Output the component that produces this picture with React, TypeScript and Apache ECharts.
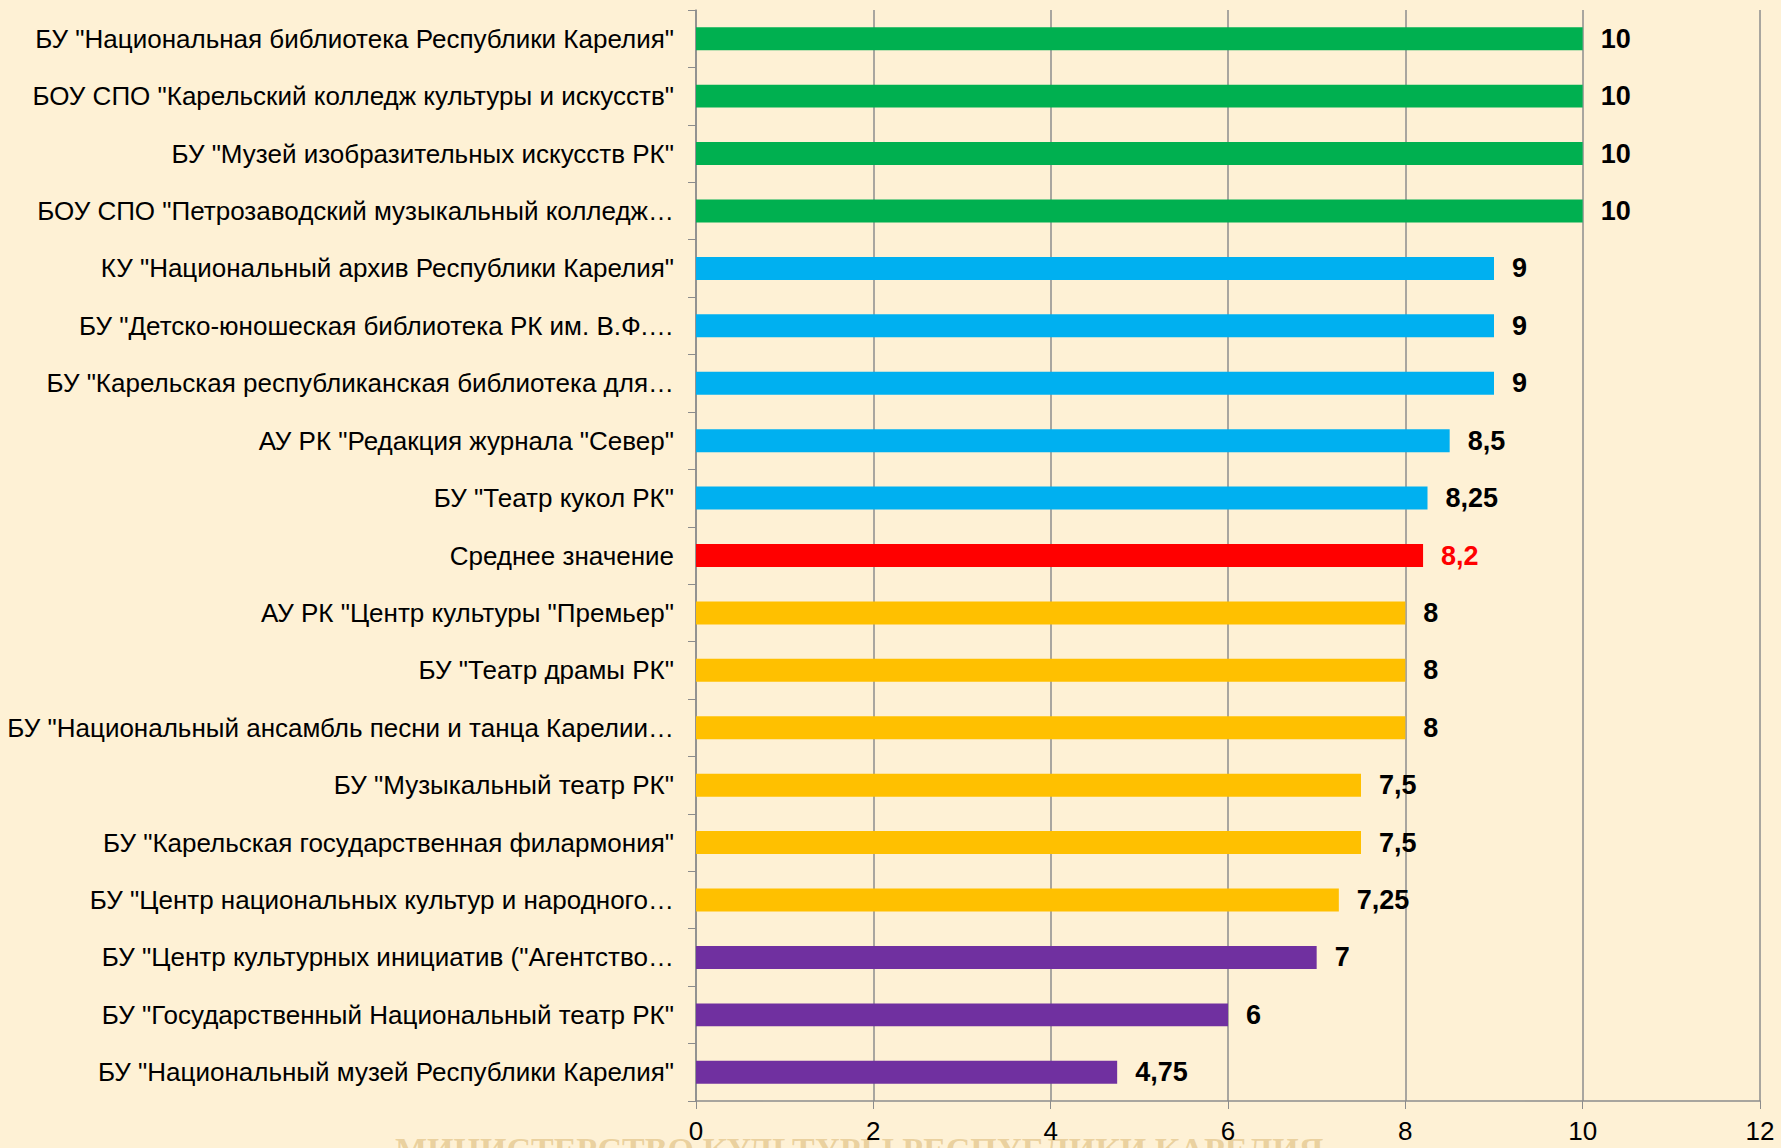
import React, { useEffect, useRef } from "react";
import * as echarts from "echarts";

const categories = [
  'БУ "Национальная библиотека Республики Карелия"',
  'БОУ СПО "Карельский колледж культуры и искусств"',
  'БУ "Музей изобразительных искусств РК"',
  'БОУ СПО "Петрозаводский музыкальный колледж…',
  'КУ "Национальный архив Республики Карелия"',
  'БУ "Детско-юношеская библиотека РК им. В.Ф.…',
  'БУ "Карельская республиканская библиотека для…',
  'АУ РК "Редакция журнала "Север"',
  'БУ "Театр кукол РК"',
  'Среднее значение',
  'АУ РК "Центр культуры "Премьер"',
  'БУ "Театр драмы РК"',
  'БУ "Национальный ансамбль песни и танца Карелии…',
  'БУ "Музыкальный театр РК"',
  'БУ "Карельская государственная филармония"',
  'БУ "Центр национальных культур и народного…',
  'БУ "Центр культурных инициатив ("Агентство…',
  'БУ "Государственный Национальный театр РК"',
  'БУ "Национальный музей Республики Карелия"',
];

const values = [10, 10, 10, 10, 9, 9, 9, 8.5, 8.25, 8.2, 8, 8, 8, 7.5, 7.5, 7.25, 7, 6, 4.75];

const groupColors = ["#00B050", "#00B0F0", "#FF0000", "#FFC000", "#7030A0"];
const groupOf = [0, 0, 0, 0, 1, 1, 1, 1, 1, 2, 3, 3, 3, 3, 3, 3, 4, 4, 4];

const xTicks = [0, 2, 4, 6, 8, 10, 12];

export default function App() {
  const ref = useRef<HTMLDivElement>(null);
  useEffect(() => {
    const chart = echarts.init(ref.current!, null, { renderer: "svg" });
    const labelFont = '"Liberation Sans", Arial, sans-serif';
    chart.setOption({
      animation: false,
      backgroundColor: "#FEF1D5",
      graphic: [
        {
          type: "text",
          left: 395,
          top: 1132,
          z: -10,
          silent: true,
          style: {
            text: "МИНИСТЕРСТВО КУЛЬТУРЫ РЕСПУБЛИКИ КАРЕЛИЯ",
            fill: "rgba(210,170,90,0.45)",
            font: 'bold 34px "Liberation Serif", serif',
          },
        },
      ],
      grid: {
        left: 696,
        right: 21,
        top: 10,
        bottom: 47,
        containLabel: false,
        outerBoundsMode: "none",
      },
      xAxis: {
        type: "value",
        min: 0,
        max: 12,
        interval: 2,
        axisLine: { show: true, lineStyle: { color: "#8C8C8C", width: 1.5 } },
        axisTick: { show: true, length: 8, lineStyle: { color: "#8C8C8C" } },
        splitLine: { show: true, lineStyle: { color: "#8C8C8C", width: 1.5 } },
        axisLabel: {
          color: "#000",
          fontSize: 26,
          margin: 17,
          fontFamily: labelFont,
          formatter: (v: number) => (xTicks.includes(v) ? String(v) : ""),
        },
      },
      yAxis: {
        type: "category",
        inverse: true,
        data: categories,
        axisLine: { show: true, lineStyle: { color: "#8C8C8C", width: 1.5 } },
        axisTick: { show: true, length: 8, lineStyle: { color: "#8C8C8C" } },
        axisLabel: {
          color: "#000",
          fontSize: 26,
          margin: 22,
          fontFamily: labelFont,
        },
      },
      series: [
        {
          type: "bar",
          barWidth: "40%",
          data: values.map((v, i) => ({
            value: v,
            itemStyle: { color: groupColors[groupOf[i]] },
            label: { color: groupOf[i] === 2 ? "#FF0000" : "#000" },
          })),
          label: {
            show: true,
            position: "right",
            distance: 18,
            fontSize: 27,
            fontWeight: "bold",
            fontFamily: labelFont,
            formatter: (p: any) => String(p.value).replace(".", ","),
          },
        },
      ],
    });
    return () => chart.dispose();
  }, []);
  return (
    <div
      ref={ref}
      style={{ position: "fixed", left: 0, top: 0, width: 1781, height: 1148 }}
    />
  );
}
